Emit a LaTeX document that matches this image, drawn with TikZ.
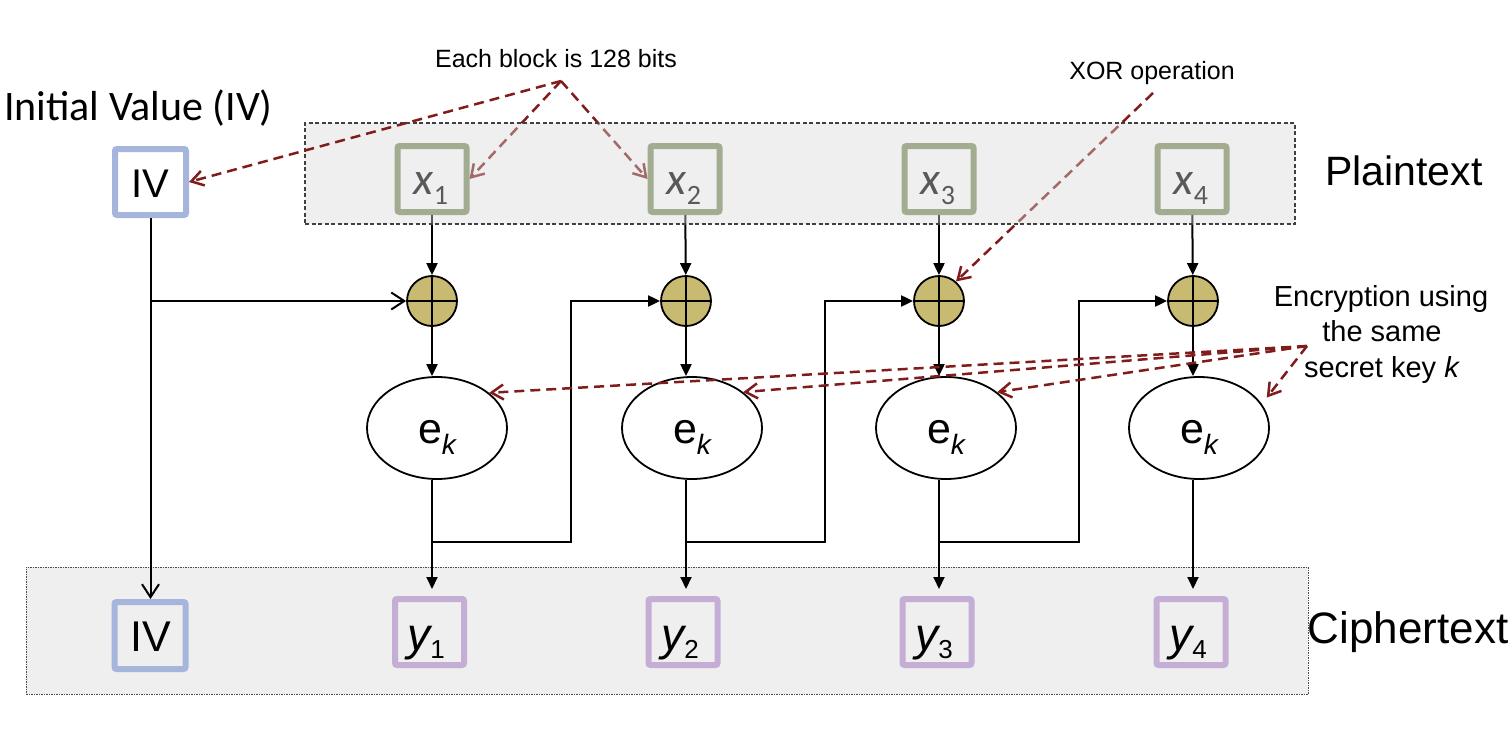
\documentclass[tikz,border=0pt]{standalone}
\usepackage{fontspec}
\setmainfont{Liberation Sans}
\newfontfamily\calib{Carlito}
\usetikzlibrary{arrows.meta,shapes.geometric}
\definecolor{ivblue}{RGB}{166,181,220}
\definecolor{xgreen}{RGB}{125,142,95}
\definecolor{ypurple}{RGB}{197,174,213}
\definecolor{xorfill}{RGB}{201,186,114}
\definecolor{annred}{RGB}{128,28,28}
\definecolor{bandgray}{RGB}{239,239,239}
\definecolor{overlaygray}{RGB}{217,217,217}
\tikzset{
  blk/.style={line width=2pt, draw=black},
  tri/.style={-{Triangle[length=12pt,width=11pt]}},
  barb/.style={-{Straight Barb[length=13pt,width=17pt]}},
  ann/.style={line width=2.5pt, draw=annred, dash pattern=on 10pt off 6pt,
    -{Straight Barb[length=12pt,width=15pt]}},
  blockbox/.style={draw, line width=6pt, rounded corners=2pt, minimum width=69pt,
    minimum height=66pt, inner sep=0pt},
  xorc/.style={circle, draw, line width=1.8pt, fill=xorfill, minimum size=50pt, inner sep=0pt,
    path picture={\draw[line width=1.8pt]
      (path picture bounding box.north) -- (path picture bounding box.south)
      (path picture bounding box.west) -- (path picture bounding box.east);}},
  enc/.style={ellipse, draw, line width=1.8pt, fill=white, minimum width=140pt,
    minimum height=102pt, inner sep=0pt},
  lbl/.style={anchor=base, inner sep=0pt},
}
\newcommand{\fs}[1]{\fontsize{#1}{#1}\selectfont}
\begin{document}
\begin{tikzpicture}[x=1pt,y=-1pt]
\useasboundingbox (0,0) rectangle (1508,736);

% ciphertext band
\node[draw=black!70, fill=bandgray, line width=1pt, dash pattern=on 1.5pt off 1pt,
  minimum width=1282pt, minimum height=127pt, inner sep=0pt] (cband) at (667,630.5) {};

% top boxes
\node[blockbox, draw=ivblue, minimum width=71pt] (ivt) at (150.5,182) {};
\node[lbl, font=\fs{40}] (livt) at (150,197) {IV};
\node[blockbox, draw=xgreen] (x1) at (432,179) {};
\node[blockbox, draw=xgreen] (x2) at (685,179) {};
\node[blockbox, draw=xgreen] (x3) at (939,179) {};
\node[blockbox, draw=xgreen] (x4) at (1192,179) {};
\node[lbl, font=\calib\fs{46}] (lx1) at (431,194) {\itshape x\raisebox{-10pt}{\fs{28}\upshape 1}};
\node[lbl, font=\calib\fs{46}] (lx2) at (684,194) {\itshape x\raisebox{-10pt}{\fs{28}\upshape 2}};
\node[lbl, font=\calib\fs{46}] (lx3) at (938,194) {\itshape x\raisebox{-10pt}{\fs{28}\upshape 3}};
\node[lbl, font=\calib\fs{46}] (lx4) at (1191,194) {\itshape x\raisebox{-10pt}{\fs{28}\upshape 4}};

% XOR circles
\node[xorc] (xor1) at (432,301) {};
\node[xorc] (xor2) at (686,301) {};
\node[xorc] (xor3) at (939,301) {};
\node[xorc] (xor4) at (1193,301) {};

% encryption ellipses
\node[enc] (e1) at (437,428) {};
\node[enc] (e2) at (692,428) {};
\node[enc] (e3) at (946,428) {};
\node[enc] (e4) at (1199,428) {};
\foreach \i/\xx in {1/437,2/692,3/946,4/1199}
  \node[lbl] (le\i) at (\xx,443) {\fs{43}e\raisebox{-11pt}{\fs{28}\itshape k}};

% bottom boxes
\node[blockbox, draw=ivblue, minimum width=71pt, minimum height=67pt] (ivb) at (150,635.5) {};
\node[lbl, font=\fs{43}] (livb) at (151,651) {IV};
\node[blockbox, draw=ypurple] (y1) at (429.5,632) {};
\node[blockbox, draw=ypurple] (y2) at (683,632) {};
\node[blockbox, draw=ypurple] (y3) at (937,632) {};
\node[blockbox, draw=ypurple] (y4) at (1191,632) {};
\node[lbl] (ly1) at (426,650) {\fs{46}\itshape y\raisebox{-8pt}{\fs{26}\upshape 1}};
\node[lbl] (ly2) at (680,650) {\fs{46}\itshape y\raisebox{-8pt}{\fs{26}\upshape 2}};
\node[lbl] (ly3) at (934,650) {\fs{46}\itshape y\raisebox{-8pt}{\fs{26}\upshape 3}};
\node[lbl] (ly4) at (1188,650) {\fs{46}\itshape y\raisebox{-8pt}{\fs{26}\upshape 4}};

% black connectors
\draw[blk, barb] (ivt.south) -- (ivt.south |- ivb.north);
\draw[blk, barb] (ivt.south |- xor1) -- (xor1);
\foreach \i in {1,2,3,4}{
  \draw[blk, tri] (x\i) -- (xor\i);
  \draw[blk, tri] (xor\i) -- (xor\i |- e\i.north);
  \draw[blk, tri, shorten >=7pt] (xor\i |- e\i.south) -- (xor\i |- y\i.north);
}
\coordinate (j1) at (432,542); \coordinate (k1) at (571,542);
\coordinate (j2) at (686,542); \coordinate (k2) at (825,542);
\coordinate (j3) at (939,542); \coordinate (k3) at (1079,542);
\draw[blk, tri] (j1) -- (k1) |- (xor2);
\draw[blk, tri] (j2) -- (k2) |- (xor3);
\draw[blk, tri] (j3) -- (k3) |- (xor4);

% annotation arrows under the plaintext overlay
\coordinate (ob) at (561,81);
\draw[ann] (ob) -- (x1.east);
\draw[ann] (ob) -- (x2.west);
\coordinate (ox) at (1153,93);
\draw[ann] (ox) -- (xor3.49);
\coordinate (oe) at (1307,346);
\draw[ann] (oe) -- (e1.34);
\draw[ann] (oe) -- (e2.35);
\draw[ann] (oe) -- (e3.35);
\draw[ann, shorten >=8pt] (oe) -- (e4.21);

% plaintext band (translucent overlay)
\node[draw=black!75, fill=overlaygray, fill opacity=0.41, line width=1.2pt,
  dash pattern=on 4pt off 2.5pt, minimum width=990pt, minimum height=101pt,
  inner sep=0pt] (pband) at (800,173.5) {};

\draw[ann] (ob) -- (ivt.east);

% texts
\node[anchor=base west, inner sep=0pt, font=\calib\fs{42}] (tiv) at (4,120) {Initial Value (IV)};
\node[lbl, font=\fs{25}] (tblock) at (556,67) {Each block is 128 bits};
\node[lbl, font=\fs{25}] (txor) at (1152,79) {XOR operation};
\node[lbl, font=\fs{41}] (tplain) at (1404,185) {Plaintext};
\node[lbl, font=\fs{44}] (tcipher) at (1408,643) {Ciphertext};
\node[lbl, font=\fs{29}] (tenc1) at (1381,306) {Encryption using};
\node[lbl, font=\fs{29}] (tenc2) at (1382,341) {the same};
\node[lbl, font=\fs{29}] (tenc3) at (1382,377) {secret key \textit{k}};
\end{tikzpicture}
\end{document}
